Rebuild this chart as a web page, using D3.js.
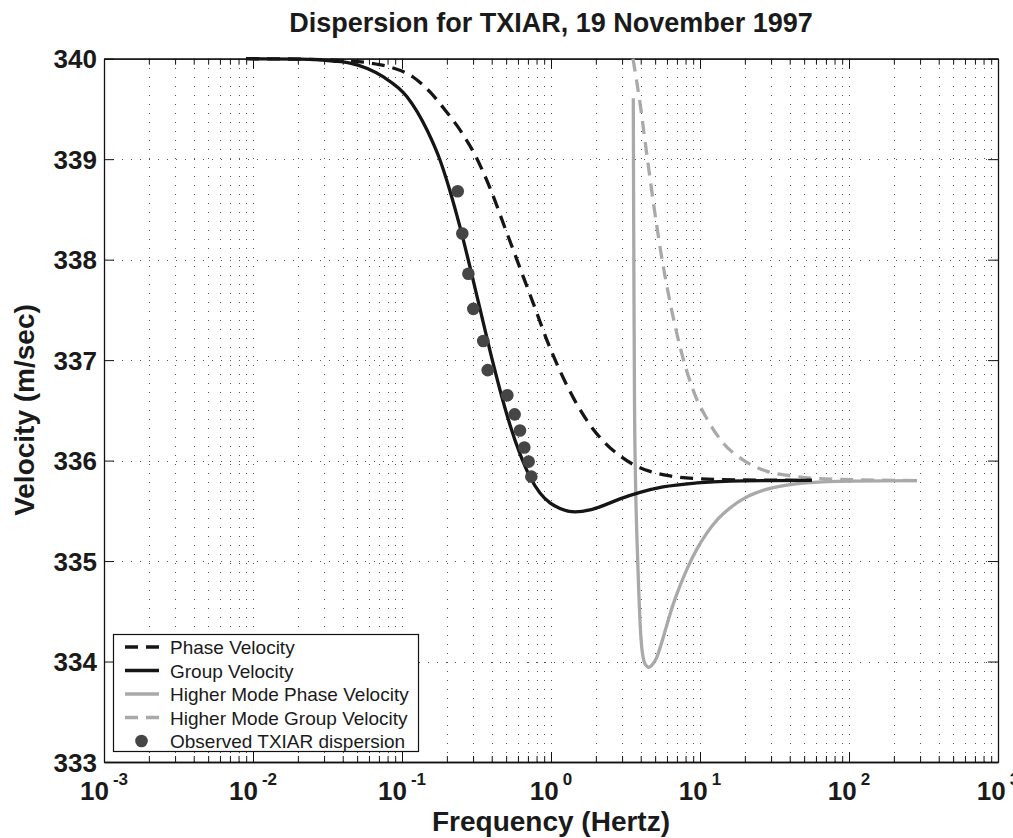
<!DOCTYPE html>
<html>
<head>
<meta charset="utf-8">
<script src="https://cdn.jsdelivr.net/npm/d3@7"></script>
<style>
  body { margin: 0; background: #fff; }
  svg text { font-family: "Liberation Sans", Arial, Helvetica, sans-serif; }
</style>
</head>
<body>
<div id="chart"></div>
<script>
// chart values
var yTicks = [333, 334, 335, 336, 337, 338, 339, 340];
var xDecades = [-3, -2, -1, 0, 1, 2, 3];

var phaseFreq = [0.00898, 0.02067, 0.03836, 0.06098, 0.08308, 0.1186, 0.1541, 0.1943, 0.2450, 0.3090, 0.3897, 0.4913, 0.6193, 0.7809, 0.9547, 1.149, 1.449, 1.827, 2.304, 2.905, 3.663, 4.618, 6.291, 9.548, 18.56, 56.45];
var phaseVel = [340.0, 339.995, 339.982, 339.957, 339.917, 339.818, 339.669, 339.490, 339.291, 339.042, 338.713, 338.315, 337.917, 337.519, 337.171, 336.893, 336.594, 336.355, 336.176, 336.047, 335.952, 335.892, 335.847, 335.821, 335.808, 335.803];

var groupFreq = [0.00898, 0.02067, 0.03443, 0.04477, 0.07457, 0.1080, 0.1472, 0.1799, 0.2099, 0.2450, 0.2860, 0.3339, 0.3897, 0.4547, 0.5307, 0.6193, 0.7229, 0.8437, 0.9847, 1.149, 1.449, 1.827, 2.304, 2.905, 3.957, 5.646, 9.548, 15.90, 29.50, 56.45];
var groupVel = [340.0, 339.995, 339.977, 339.957, 339.821, 339.622, 339.291, 338.992, 338.684, 338.326, 337.927, 337.509, 337.091, 336.703, 336.355, 336.066, 335.837, 335.678, 335.579, 335.524, 335.490, 335.509, 335.559, 335.619, 335.684, 335.738, 335.778, 335.796, 335.801, 335.803];

var hmPhaseFreq = [3.567, 3.584, 3.606, 3.634, 3.691, 3.778, 3.867, 3.957, 4.050, 4.144, 4.274, 4.409, 4.512, 4.618, 4.837, 5.145, 5.473, 5.913, 6.487, 7.340, 8.308, 9.548, 11.14, 13.21, 15.90, 20.05, 26.47, 37.20, 54.74, 101.6, 286.1];
var hmPhaseVel = [339.606, 338.594, 337.599, 336.604, 335.808, 335.211, 334.763, 334.395, 334.166, 334.047, 333.977, 333.952, 333.942, 333.947, 333.977, 334.047, 334.166, 334.335, 334.534, 334.753, 334.942, 335.121, 335.280, 335.419, 335.529, 335.629, 335.703, 335.753, 335.781, 335.796, 335.801];

var hmGroupFreq = [3.550, 3.957, 4.409, 4.913, 5.473, 6.291, 7.690, 9.255, 11.14, 14.27, 19.44, 28.16, 40.18, 78.10, 286.1];
var hmGroupVel = [340.0, 339.559, 339.032, 338.524, 338.066, 337.578, 337.021, 336.654, 336.415, 336.176, 336.007, 335.893, 335.848, 335.815, 335.801];

var obsFreq = [0.2365, 0.254, 0.279, 0.301, 0.351, 0.376, 0.509, 0.570, 0.619, 0.662, 0.708, 0.738];
var obsVel = [338.68, 338.26, 337.86, 337.51, 337.19, 336.90, 336.65, 336.46, 336.30, 336.13, 335.99, 335.84];

var legendLabels = ["Phase Velocity", "Group Velocity", "Higher Mode Phase Velocity", "Higher Mode Group Velocity", "Observed TXIAR dispersion"];

(function() {
	// sizes
	var W = 1013, H = 838;
	var mLeft = 104, mRight = 998, mTop = 58.7, mBottom = 762;
	var black = "#151515", grey = "#a9a9a9", dotCol = "#454545";

	var svg = d3.select("#chart").append("svg")
		.attr("width", W)
		.attr("height", H);

	var x = d3.scaleLog().domain([1e-3, 1e3]).range([mLeft, mRight]);
	var y = d3.scaleLinear().domain([333, 340]).range([mBottom, mTop]);

	var majors = xDecades.map(function(d) { return Math.pow(10, d); });
	var minors = [];
	for (var e = -3; e < 3; e++) {
		for (var k = 2; k <= 9; k++) minors.push(k * Math.pow(10, e));
	}

	// grid
	var grid = svg.append("g").attr("class", "grid")
		.style("stroke", "#555")
		.style("stroke-width", 1)
		.style("stroke-dasharray", "1,8");

	grid.selectAll("line.v")
		.data(minors.concat(majors.slice(1, -1)))
		.enter().append("line")
		.attr("class", "v")
		.attr("x1", function(d) { return Math.round(x(d)) + 0.5; })
		.attr("x2", function(d) { return Math.round(x(d)) + 0.5; })
		.attr("y1", mBottom)
		.attr("y2", mTop);

	grid.selectAll("line.h")
		.data(yTicks.slice(1, -1))
		.enter().append("line")
		.attr("class", "h")
		.attr("x1", mLeft)
		.attr("x2", mRight)
		.attr("y1", function(d) { return Math.round(y(d)) + 0.5; })
		.attr("y2", function(d) { return Math.round(y(d)) + 0.5; });

	// axes (ticks point inward)
	function noLabel() { return ""; }

	svg.append("g").attr("transform", "translate(0," + mBottom + ")")
		.call(d3.axisBottom(x).tickValues(minors).tickSize(-6).tickSizeOuter(0).tickFormat(noLabel));
	svg.append("g").attr("transform", "translate(0," + mBottom + ")")
		.call(d3.axisBottom(x).tickValues(majors).tickSize(-10).tickSizeOuter(0).tickFormat(noLabel));
	svg.append("g").attr("transform", "translate(0," + mTop + ")")
		.call(d3.axisTop(x).tickValues(minors).tickSize(-6).tickSizeOuter(0).tickFormat(noLabel));
	svg.append("g").attr("transform", "translate(0," + mTop + ")")
		.call(d3.axisTop(x).tickValues(majors).tickSize(-10).tickSizeOuter(0).tickFormat(noLabel));
	svg.append("g").attr("transform", "translate(" + mLeft + ",0)")
		.call(d3.axisLeft(y).tickValues(yTicks).tickSize(-10).tickSizeOuter(0).tickFormat(noLabel));
	svg.append("g").attr("transform", "translate(" + mRight + ",0)")
		.call(d3.axisRight(y).tickValues(yTicks).tickSize(-10).tickSizeOuter(0).tickFormat(noLabel));

	svg.selectAll(".domain").style("stroke", "#111").style("stroke-width", 1.3);
	svg.selectAll(".tick line").style("stroke", "#111");

	// tick labels
	var xl = svg.append("g").selectAll("text")
		.data(xDecades)
		.enter().append("text")
		.attr("x", function(d) { return x(Math.pow(10, d)); })
		.attr("y", 800)
		.attr("text-anchor", "middle")
		.style("font-weight", "bold")
		.style("font-size", "26px")
		.style("fill", "#1a1a1a");
	xl.append("tspan").text("10");
	xl.append("tspan")
		.attr("dx", 4)
		.attr("dy", -15)
		.style("font-size", "17px")
		.text(function(d) { return d; });

	svg.append("g").selectAll("text")
		.data(yTicks)
		.enter().append("text")
		.attr("x", 97)
		.attr("y", function(d) { return y(d) + 9.5; })
		.attr("text-anchor", "end")
		.style("font-weight", "bold")
		.style("font-size", "26px")
		.style("fill", "#1a1a1a")
		.text(function(d) { return d; });

	// titles
	svg.append("text")
		.attr("x", 551).attr("y", 32)
		.attr("text-anchor", "middle")
		.style("font-weight", "bold").style("font-size", "27px").style("fill", "#1a1a1a")
		.text("Dispersion for TXIAR, 19 November 1997");

	svg.append("text")
		.attr("x", 551).attr("y", 831)
		.attr("text-anchor", "middle")
		.style("font-weight", "bold").style("font-size", "28px").style("fill", "#1a1a1a")
		.text("Frequency (Hertz)");

	svg.append("text")
		.attr("transform", "translate(34,410) rotate(-90)")
		.attr("text-anchor", "middle")
		.style("font-weight", "bold").style("font-size", "28px").style("fill", "#1a1a1a")
		.text("Velocity (m/sec)");

	// curves
	svg.append("clipPath").attr("id", "plotclip")
		.append("rect")
		.attr("x", mLeft).attr("y", mTop - 2)
		.attr("width", mRight - mLeft).attr("height", mBottom - mTop + 2);

	var plot = svg.append("g").attr("clip-path", "url(#plotclip)");

	function zip(fs, vs) {
		return fs.map(function(f, i) { return [f, vs[i]]; });
	}

	var line = d3.line()
		.x(function(d) { return x(d[0]); })
		.y(function(d) { return y(d[1]); })
		.curve(d3.curveMonotoneX);

	var series = [
		{ data: zip(hmPhaseFreq, hmPhaseVel), color: grey, dash: null },
		{ data: zip(hmGroupFreq, hmGroupVel), color: grey, dash: "13,8" },
		{ data: zip(groupFreq, groupVel), color: black, dash: null },
		{ data: zip(phaseFreq, phaseVel), color: black, dash: "13,8" }
	];

	series.forEach(function(s) {
		plot.append("path")
			.datum(s.data)
			.attr("d", line)
			.style("fill", "none")
			.style("stroke", s.color)
			.style("stroke-width", 3.3)
			.style("stroke-dasharray", s.dash);
	});

	plot.selectAll("circle.obs")
		.data(zip(obsFreq, obsVel))
		.enter().append("circle")
		.attr("class", "obs")
		.attr("cx", function(d) { return x(d[0]); })
		.attr("cy", function(d) { return y(d[1]); })
		.attr("r", 6.3)
		.style("fill", dotCol);

	// legend
	var legend = svg.append("g").attr("class", "legend");
	var rowY = [647, 670.5, 694, 717.5, 741];

	legend.append("rect")
		.attr("x", 113.5).attr("y", 634.5)
		.attr("width", 305).attr("height", 117)
		.style("fill", "#fff")
		.style("stroke", "#111")
		.style("stroke-width", 1.2);

	var legendStyle = [
		{ color: black, dash: "13,8", dot: false },
		{ color: black, dash: null, dot: false },
		{ color: grey, dash: null, dot: false },
		{ color: grey, dash: "13,8", dot: false },
		{ color: dotCol, dash: null, dot: true }
	];

	legend.selectAll("g")
		.data(legendLabels)
		.enter().append("g").each(function(d, i) {
			var g = d3.select(this);
			var st = legendStyle[i];
			if (st.dot) {
				g.append("circle")
					.attr("cx", 141.5).attr("cy", rowY[i])
					.attr("r", 6.3)
					.style("fill", st.color);
			} else {
				g.append("line")
					.attr("x1", 125).attr("x2", 159)
					.attr("y1", rowY[i]).attr("y2", rowY[i])
					.style("stroke", st.color)
					.style("stroke-width", 3.3)
					.style("stroke-dasharray", st.dash);
			}
			g.append("text")
				.attr("x", 170)
				.attr("y", rowY[i] + 7)
				.style("font-size", "19px")
				.style("fill", "#1a1a1a")
				.text(d);
		});
})();
</script>
</body>
</html>
